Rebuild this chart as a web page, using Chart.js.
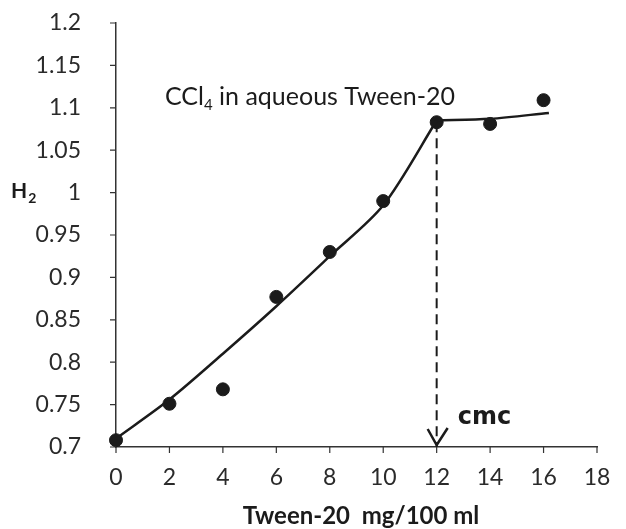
<!DOCTYPE html>
<html>
<head>
<meta charset="utf-8">
<script src="https://cdn.jsdelivr.net/npm/chart.js@4.4.1/dist/chart.umd.min.js"></script>
<style>
  html, body { margin: 0; padding: 0; background: #fff; }
  #wrap { width: 626px; height: 529px; position: relative; }
</style>
</head>
<body>
<div id="wrap"><canvas id="chart" width="626" height="529"></canvas></div>
<script>
// measured points (Tween-20 mg/100 ml vs H2)
const tweenConc = [0, 2, 4, 6, 8, 10, 12, 14, 16];
const h2Values = [0.708, 0.751, 0.768, 0.877, 0.930, 0.990, 1.083, 1.081, 1.109];

// hand-drawn trend: rising part up to the cmc, then the plateau
const riseConc = [0, 2, 4, 6, 8, 10, 12];
const riseH2 = [0.710, 0.756, 0.810, 0.866, 0.925, 0.985, 1.085];
const plateauConc = [12, 14, 16.2];
const plateauH2 = [1.085, 1.087, 1.094];

// cmc marker
const cmcConc = 12;
const cmcTop = 1.083;
const cmcBottom = 0.7;

// axes
const xMin = 0, xMax = 18, xStep = 2;
const yMin = 0.7, yMax = 1.2, yStep = 0.05;

const ink = "#1b1b1b";
const labelFont = "Lato, 'Open Sans', sans-serif";

const toXY = (xs, ys) => xs.map((x, i) => ({ x: x, y: ys[i] }));

// extra text + arrow drawn after the datasets
const annotations = {
  id: "annotations",
  afterDraw(chart) {
    const { ctx, scales: { x, y } } = chart;
    ctx.save();
    ctx.fillStyle = ink;
    ctx.strokeStyle = ink;

    // title inside plot: CCl4 in aqueous Tween-20
    let tx = 165, ty = 105;
    ctx.font = "25px " + labelFont;
    ctx.textBaseline = "alphabetic";
    ctx.textAlign = "left";
    ctx.fillText("CCl", tx, ty);
    tx += ctx.measureText("CCl").width;
    ctx.font = "15px " + labelFont;
    ctx.fillText("4", tx, ty + 5);
    tx += ctx.measureText("4").width;
    ctx.font = "25px " + labelFont;
    ctx.fillText(" in aqueous Tween-20", tx, ty);

    // y label H2 (horizontal)
    ctx.font = "bold 21px " + labelFont;
    ctx.fillText("H", 11, 198);
    const hw = ctx.measureText("H").width;
    ctx.font = "bold 14px " + labelFont;
    ctx.fillText("2", 11 + hw + 1, 203);

    // x axis title
    ctx.font = "bold 24px " + labelFont;
    ctx.textAlign = "center";
    ctx.fillText("Tween-20  mg/100 ml", 361, 524);

    // arrow head at bottom of cmc line
    const ax = x.getPixelForValue(cmcConc);
    const ay = y.getPixelForValue(cmcBottom) - 2;
    ctx.lineWidth = 2.5;
    ctx.beginPath();
    ctx.moveTo(ax - 9, ay - 16);
    ctx.lineTo(ax, ay);
    ctx.lineTo(ax + 11, ay - 17);
    ctx.stroke();

    // cmc label
    ctx.font = "bold 24px 'DejaVu Sans', sans-serif";
    ctx.textAlign = "left";
    ctx.fillText("cmc", ax + 21, ay - 21);

    // small tick marks on both axes
    ctx.lineWidth = 1.2;
    ctx.strokeStyle = "#333";
    ctx.beginPath();
    x.ticks.forEach((t) => {
      const px = x.getPixelForValue(t.value);
      ctx.moveTo(px, y.bottom);
      ctx.lineTo(px, y.bottom + 6);
    });
    y.ticks.forEach((t) => {
      const py = y.getPixelForValue(t.value);
      ctx.moveTo(x.left - 6, py);
      ctx.lineTo(x.left, py);
    });
    ctx.stroke();
    ctx.restore();
  }
};

new Chart(document.getElementById("chart"), {
  type: "scatter",
  data: {
    datasets: [
      {
        label: "rise",
        data: toXY(riseConc, riseH2),
        showLine: true,
        borderColor: ink,
        borderWidth: 2.5,
        pointRadius: 0,
        tension: 0.3
      },
      {
        label: "plateau",
        data: toXY(plateauConc, plateauH2),
        showLine: true,
        borderColor: ink,
        borderWidth: 2.5,
        pointRadius: 0,
        tension: 0.3
      },
      {
        label: "cmc",
        data: [{ x: cmcConc, y: cmcTop }, { x: cmcConc, y: cmcBottom }],
        showLine: true,
        borderColor: ink,
        borderWidth: 2,
        borderDash: [10, 6],
        pointRadius: 0
      },
      {
        label: "H2",
        data: toXY(tweenConc, h2Values),
        backgroundColor: ink,
        borderColor: ink,
        pointRadius: 6.5,
        pointHoverRadius: 6.5
      }
    ]
  },
  options: {
    responsive: false,
    animation: false,
    clip: false,
    layout: { padding: { left: 0, top: 23, right: 29, bottom: 0 } },
    plugins: { legend: { display: false }, tooltip: { enabled: false } },
    scales: {
      x: {
        type: "linear",
        min: xMin, max: xMax,
        afterFit: (s) => { s.height = 82; s.paddingLeft = 0; s.paddingRight = 0; },
        grid: { display: false },
        border: { display: true, color: "#333", width: 1.5 },
        ticks: {
          stepSize: xStep,
          color: "#2a2a2a",
          font: { family: labelFont, size: 23 },
          padding: 9
        }
      },
      y: {
        type: "linear",
        min: yMin, max: yMax,
        afterFit: (s) => { s.width = 116; s.paddingTop = 0; s.paddingBottom = 0; },
        grid: { display: false },
        border: { display: true, color: "#333", width: 1.5 },
        ticks: {
          stepSize: yStep,
          color: "#2a2a2a",
          font: { family: labelFont, size: 23 },
          padding: 27,
          callback: (v) => +v.toFixed(2)
        }
      }
    }
  },
  plugins: [annotations]
});
</script>
</body>
</html>
